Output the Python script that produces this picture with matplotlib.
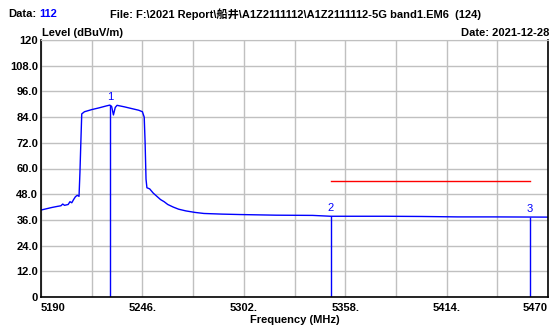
import numpy as np
import matplotlib
matplotlib.use('Agg')
from matplotlib import pyplot as plt

plt.rcParams['font.family'] = ['Liberation Sans', 'Noto Sans CJK SC', 'DejaVu Sans']

# trace
freq = [5190, 5193, 5196, 5199, 5201, 5202, 5203, 5205, 5206, 5207, 5208, 5209, 5210, 5211,
        5211.5, 5212, 5212.5, 5214, 5218, 5222, 5226, 5228, 5229, 5230, 5231, 5232, 5236, 5240,
        5244, 5246, 5247, 5247.5, 5248, 5248.5, 5250, 5252, 5254, 5256, 5258, 5260, 5263, 5266,
        5270, 5275, 5280, 5290, 5300, 5320, 5340, 5350, 5380, 5400, 5420, 5440, 5470]
level = [40.6, 41.2, 41.8, 42.3, 42.6, 43.4, 42.8, 43.2, 44.5, 44.0, 45.5, 46.8, 47.5, 47.0,
         58.0, 72.0, 85.5, 86.5, 87.5, 88.3, 89.2, 89.6, 89.0, 85.0, 88.5, 89.5, 88.8, 88.0,
         87.2, 86.5, 84.0, 72.0, 55.0, 51.0, 50.5, 48.5, 47.0, 45.5, 44.5, 43.2, 42.0, 41.0,
         40.2, 39.5, 39.0, 38.7, 38.5, 38.2, 38.1, 37.7, 37.7, 37.6, 37.4, 37.4, 37.3]

marker_freq = [5228, 5350, 5460]
marker_level = [89.6, 37.7, 37.4]
marker_names = ['1', '2', '3']

limit_freq = [5350, 5460]
limit_level = [54, 54]

xticks = np.arange(5190, 5471, 28)
xlabels = ['5190', '', '5246.', '', '5302.', '', '5358.', '', '5414.', '', '5470']
yticks = np.arange(0, 121, 12)
ylabels = ['0', '12.0', '24.0', '36.0', '48.0', '60.0', '72.0', '84.0', '96.0', '108.0', '120']

fig = plt.figure(figsize=(5.55, 3.29), dpi=100)
ax = fig.add_axes([41 / 555, 32 / 329, 507 / 555, 257 / 329])

ax.plot(freq, level, color='#0000ff', lw=1)
ax.plot(limit_freq, limit_level, color='#ff0000', lw=1)
for f, l, n in zip(marker_freq, marker_level, marker_names):
    ax.vlines(f, 0, l, color='#0000ff', lw=1)
    ax.text(f, l + 1.5, n, color='#0000ff', fontsize=8, ha='center', va='bottom')

ax.set_xlim(5190, 5470)
ax.set_ylim(0, 120)
ax.set_xticks(xticks)
ax.set_xticklabels(xlabels)
ax.set_yticks(yticks)
ax.set_yticklabels(ylabels)
ax.grid(True, color='#c0c0c0', lw=1)
ax.tick_params(length=0, labelsize=8, pad=2)
ax.tick_params(axis='x', pad=4)
for lab in ax.get_xticklabels() + ax.get_yticklabels():
    lab.set_fontweight('bold')
ax.get_xticklabels()[0].set_horizontalalignment('left')
ax.get_xticklabels()[-1].set_horizontalalignment('right')
for s in ['left', 'bottom', 'right']:
    ax.spines[s].set_linewidth(1.2)
ax.spines['top'].set_color('#c0c0c0')
ax.set_xlabel('Frequency (MHz)', fontsize=8, fontweight='bold', labelpad=2)

fig.text(8 / 555, 1 - 14 / 329, 'Data:', fontsize=8, fontweight='bold', va='center')
fig.text(39 / 555, 1 - 14 / 329, '112', fontsize=8, fontweight='bold', va='center', color='#0000ff')
fig.text(110 / 555, 1 - 14 / 329, 'File: F:\\2021 Report\\船井\\A1Z2111112\\A1Z2111112-5G band1.EM6  (124)',
         fontsize=8, fontweight='bold', va='center')
fig.text(42 / 555, 1 - 33 / 329, 'Level (dBuV/m)', fontsize=8, fontweight='bold', va='center')
fig.text(549 / 555, 1 - 33 / 329, 'Date: 2021-12-28', fontsize=8, fontweight='bold', va='center', ha='right')

fig.savefig('out.png', dpi=100)
